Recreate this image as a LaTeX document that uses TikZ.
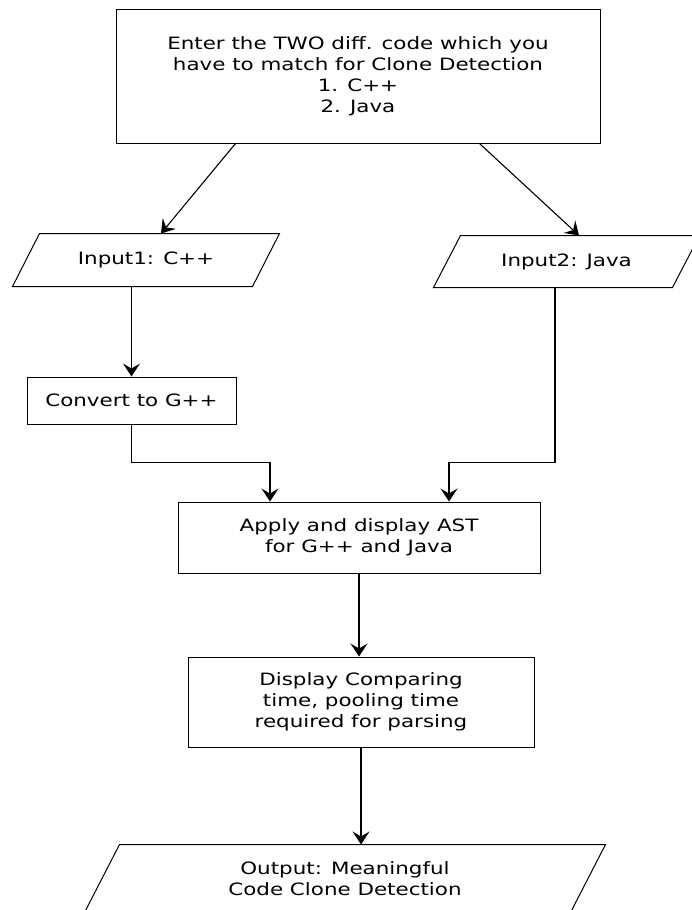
\documentclass[tikz,border=0pt]{standalone}
\usepackage{fontspec}
\setmainfont[FakeStretch=1.26]{DejaVu Sans}
\usetikzlibrary{arrows.meta,calc}

% slanted outline round an input/output node: #1 node name, #2 slant
\newcommand{\ioframe}[2]{%
	\draw[line width=1pt] ($(#1.north west)+(#2/2,0)$) -- ($(#1.north east)+(#2/2,0)$)
		-- ($(#1.south east)-(#2/2,0)$) -- ($(#1.south west)-(#2/2,0)$) -- cycle;}

\begin{document}
\begin{tikzpicture}[x=1pt,y=-1pt,
	procbox/.style={draw, line width=1pt, align=center, inner sep=0pt,
		font=\fontsize{17}{21}\selectfont},
	iobox/.style={procbox, draw=none},
	flow/.style={draw, line width=1.1pt, -{Stealth[length=13pt,width=17pt,inset=5pt]}}]
	\useasboundingbox (0,0) rectangle (692,910);
	\node[procbox, minimum width=484pt, minimum height=134pt] (enter) at (358,76)
		{Enter the TWO diff. code which you\\ have to match for Clone Detection\\1. C++\\2. Java};
	\node[iobox, minimum width=239pt, minimum height=52pt] (in1) at (146,260) {Input1: C++};
	\node[iobox, minimum width=238pt, minimum height=51pt] (in2) at (566.5,261.5) {Input2: Java};
	\node[procbox, minimum width=209pt, minimum height=47pt] (conv) at (131.5,400.5) {Convert to G++};
	\node[procbox, minimum width=362pt, minimum height=71pt] (ast) at (359,537.5)
		{Apply and display AST\\ for G++ and Java};
	\node[procbox, minimum width=346pt, minimum height=90pt] (disp) at (361,702)
		{Display Comparing\\time, pooling time\\ required for parsing};
	\node[iobox, minimum width=485pt, minimum height=67pt] (out) at (345,878.5)
		{Output: Meaningful\\Code Clone Detection};
	\ioframe{in1}{27}
	\ioframe{in2}{27}
	\ioframe{out}{35}
	% connectors
	\draw[flow] ($(enter.south west)+(120,0)$) -- ($(in1.north)+(15,0)$);
	\draw[flow] ($(enter.south west)+(364,0)$) -- ($(in2.north)+(12.5,0)$);
	\draw[flow] (conv.north |- in1.south) -- (conv.north);
	\draw[flow] (conv.south) |- ($(ast.north)+(-89,-39)$) -- ($(ast.north)+(-89,0)$);
	\draw[flow] ($(in2.south)+(-11.5,0)$) |- ($(ast.north)+(90,-39)$) -- ($(ast.north)+(90,0)$);
	\draw[flow] (ast.south) -- (ast.south |- disp.north);
	\draw[flow] (disp.south) -- (disp.south |- out.north);
\end{tikzpicture}
\end{document}
